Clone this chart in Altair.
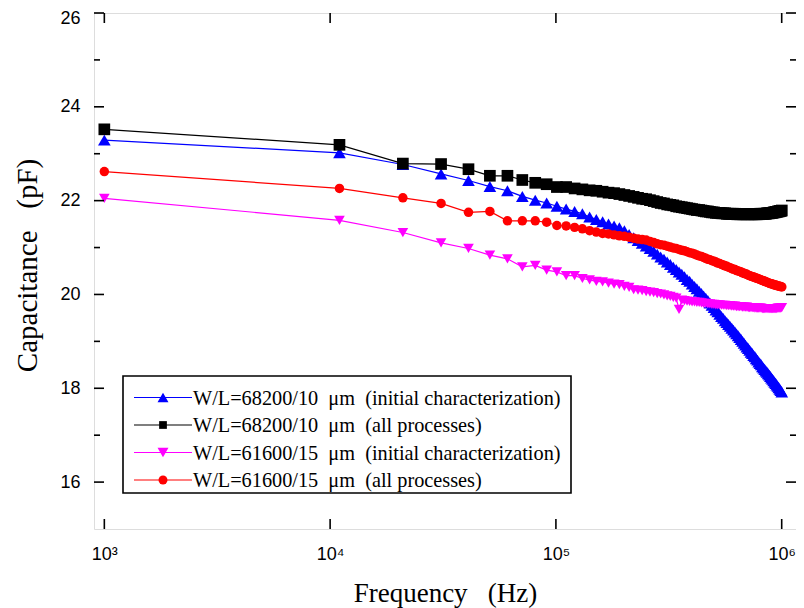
import altair as alt
import pandas as pd

# ---------------- data ----------------
freq = [1000, 11000, 21000, 31000, 41000, 51000, 61000, 71000, 81000, 91000,
        101000, 111000, 121000, 131000, 141000, 151000, 161000, 171000, 181000, 191000,
        201000, 211000, 221000, 231000, 241000, 251000, 261000, 271000, 281000, 291000,
        301000, 311000, 321000, 331000, 341000, 351000, 361000, 371000, 381000, 391000,
        401000, 411000, 421000, 431000, 441000, 451000, 461000, 471000, 481000, 491000,
        501000, 511000, 521000, 531000, 541000, 551000, 561000, 571000, 581000, 591000,
        601000, 611000, 621000, 631000, 641000, 651000, 661000, 671000, 681000, 691000,
        701000, 711000, 721000, 731000, 741000, 751000, 761000, 771000, 781000, 791000,
        801000, 811000, 821000, 831000, 841000, 851000, 861000, 871000, 881000, 891000,
        901000, 911000, 921000, 931000, 941000, 951000, 961000, 971000, 981000, 991000,
        1001000]

cap_68200_initial = [
    23.29, 23.02, 22.77, 22.57, 22.43, 22.30, 22.21, 22.09, 22.01, 21.95,
    21.88, 21.82, 21.77, 21.72, 21.65, 21.60, 21.55, 21.50, 21.46, 21.42,
    21.36, 21.28, 21.21, 21.15, 21.09, 21.03, 20.98, 20.92, 20.86, 20.80,
    20.75, 20.69, 20.64, 20.58, 20.53, 20.48, 20.43, 20.38, 20.32, 20.28,
    20.22, 20.17, 20.12, 20.07, 20.02, 19.97, 19.92, 19.87, 19.82, 19.77,
    19.72, 19.67, 19.63, 19.58, 19.53, 19.49, 19.44, 19.40, 19.36, 19.32,
    19.28, 19.24, 19.20, 19.16, 19.12, 19.08, 19.04, 19.00, 18.96, 18.92,
    18.88, 18.85, 18.81, 18.77, 18.74, 18.70, 18.67, 18.63, 18.60, 18.56,
    18.53, 18.50, 18.46, 18.43, 18.40, 18.37, 18.34, 18.31, 18.28, 18.25,
    18.22, 18.19, 18.16, 18.13, 18.10, 18.07, 18.04, 18.01, 17.98, 17.95,
    17.92]

cap_68200_all = [
    23.52, 23.19, 22.79, 22.78, 22.67, 22.53, 22.53, 22.44, 22.38, 22.35,
    22.29, 22.29, 22.26, 22.24, 22.22, 22.21, 22.19, 22.17, 22.16, 22.14,
    22.12, 22.10, 22.08, 22.06, 22.04, 22.03, 22.01, 21.99, 21.97, 21.95,
    21.94, 21.92, 21.91, 21.90, 21.88, 21.87, 21.86, 21.85, 21.84, 21.83,
    21.82, 21.81, 21.80, 21.80, 21.79, 21.78, 21.77, 21.77, 21.76, 21.75,
    21.75, 21.74, 21.74, 21.74, 21.73, 21.73, 21.73, 21.72, 21.72, 21.72,
    21.72, 21.72, 21.72, 21.71, 21.71, 21.71, 21.71, 21.71, 21.71, 21.71,
    21.71, 21.71, 21.71, 21.71, 21.71, 21.71, 21.71, 21.71, 21.71, 21.71,
    21.72, 21.72, 21.72, 21.72, 21.72, 21.72, 21.73, 21.73, 21.73, 21.74,
    21.74, 21.74, 21.75, 21.75, 21.76, 21.76, 21.77, 21.77, 21.78, 21.78,
    21.79]

cap_61600_initial = [
    22.05, 21.58, 21.32, 21.10, 20.98, 20.84, 20.76, 20.59, 20.62, 20.52,
    20.48, 20.40, 20.40, 20.34, 20.31, 20.28, 20.27, 20.24, 20.22, 20.21,
    20.17, 20.15, 20.10, 20.09, 20.08, 20.06, 20.05, 20.04, 20.02, 20.01,
    19.99, 19.97, 19.96, 19.94, 19.92, 19.68, 19.88, 19.87, 19.86, 19.85,
    19.84, 19.84, 19.83, 19.83, 19.82, 19.81, 19.81, 19.80, 19.80, 19.79,
    19.79, 19.78, 19.78, 19.78, 19.77, 19.77, 19.77, 19.76, 19.76, 19.76,
    19.75, 19.75, 19.75, 19.74, 19.74, 19.74, 19.74, 19.73, 19.73, 19.73,
    19.73, 19.72, 19.72, 19.72, 19.72, 19.72, 19.71, 19.71, 19.71, 19.71,
    19.71, 19.71, 19.70, 19.70, 19.70, 19.70, 19.70, 19.70, 19.70, 19.70,
    19.70, 19.70, 19.70, 19.70, 19.70, 19.70, 19.71, 19.71, 19.71, 19.71,
    19.72]

cap_61600_all = [
    22.62, 22.26, 22.06, 21.94, 21.75, 21.77, 21.57, 21.57, 21.57, 21.54,
    21.47, 21.46, 21.43, 21.40, 21.36, 21.33, 21.30, 21.29, 21.27, 21.25,
    21.24, 21.22, 21.20, 21.18, 21.17, 21.16, 21.13, 21.11, 21.08, 21.06,
    21.05, 21.03, 21.01, 20.99, 20.98, 20.96, 20.94, 20.93, 20.91, 20.89,
    20.88, 20.86, 20.84, 20.82, 20.81, 20.79, 20.77, 20.75, 20.74, 20.72,
    20.71, 20.69, 20.67, 20.66, 20.64, 20.63, 20.61, 20.60, 20.58, 20.57,
    20.55, 20.54, 20.53, 20.51, 20.50, 20.49, 20.48, 20.46, 20.45, 20.44,
    20.43, 20.41, 20.40, 20.39, 20.38, 20.37, 20.36, 20.35, 20.34, 20.33,
    20.32, 20.31, 20.30, 20.29, 20.28, 20.27, 20.26, 20.25, 20.24, 20.23,
    20.23, 20.22, 20.21, 20.20, 20.20, 20.19, 20.18, 20.18, 20.17, 20.17,
    20.16]

NB = "\u00a0"
series_names = [
    f"W/L=68200/10{NB}{NB}\u03bcm{NB}{NB}(initial characterization)",
    f"W/L=68200/10{NB}{NB}\u03bcm{NB}{NB}(all processes)",
    f"W/L=61600/15{NB}{NB}\u03bcm{NB}{NB}(initial characterization)",
    f"W/L=61600/15{NB}{NB}\u03bcm{NB}{NB}(all processes)",
]
series_values = [cap_68200_initial, cap_68200_all, cap_61600_initial, cap_61600_all]

x_major = [1000, 10000, 100000, 1000000]
y_major = [16, 18, 20, 22, 24, 26]
y_minor = [17, 19, 21, 23, 25]

# ---------------- styling ----------------
colors = ["#0000ff", "#000000", "#ff00ff", "#ff0000"]
shapes = ["triangle-up", "square", "triangle-down", "circle"]
sizes = [160, 90, 160, 105]
leg_sizes = [120, 60, 120, 80]

W, H = 702, 516

rows = []
for name, vals in zip(series_names, series_values):
    for i, (f, c) in enumerate(zip(freq, vals)):
        rows.append({"s": name, "f": f, "c": c, "k": i})
df = pd.DataFrame(rows)

xscale = alt.Scale(type="log", domain=[900, 1157000], nice=False)
yscale = alt.Scale(domain=[15, 26], nice=False, zero=False)
cscale = alt.Scale(domain=series_names, range=colors)
shscale = alt.Scale(domain=series_names, range=shapes)
szscale = alt.Scale(domain=series_names, range=sizes)

label_expr = ("datum.value == 1000 ? '10\u00b3' : datum.value == 10000 ? '10\u2074' : "
              "datum.value == 100000 ? '10\u2075' : '10\u2076'")

xaxis = alt.Axis(values=x_major, labelExpr=label_expr, ticks=False, domain=False, grid=False,
                 labelFont="Liberation Sans", labelFontSize=18, labelColor="black",
                 labelPadding=16, labelFlush=False, labelOverlap=False,
                 title=f"Frequency{NB}{NB}{NB}(Hz)", titleFont="Liberation Serif",
                 titleFontSize=27, titleFontWeight="normal", titleColor="black",
                 titleX=W / 2, titleY=72, titleAlign="center", titleBaseline="alphabetic")
yaxis = alt.Axis(values=y_major, ticks=False, domain=False, grid=False,
                 labelFont="Liberation Sans", labelFontSize=18, labelColor="black",
                 labelPadding=14, labelFlush=False, labelOverlap=False,
                 labelOffset={"condition": {"test": "datum.value == 26", "value": 5}, "value": 0},
                 title=f"Capacitance{NB}{NB}{NB}(pF)", titleFont="Liberation Serif",
                 titleFontSize=29, titleFontWeight="normal", titleColor="black",
                 titleAngle=270, titleX=-67, titleY=H / 2 - 6, titleAlign="center",
                 titleBaseline="middle")

lines = alt.Chart(df).mark_line(strokeWidth=1.2, clip=True).encode(
    x=alt.X("f:Q", scale=xscale, axis=xaxis),
    y=alt.Y("c:Q", scale=yscale, axis=yaxis),
    color=alt.Color("s:N", scale=cscale, legend=None),
    order=alt.Order("k:Q"),
)

points = alt.Chart(df).mark_point(filled=True, opacity=1, strokeWidth=0, clip=True).encode(
    x=alt.X("f:Q", scale=xscale),
    y=alt.Y("c:Q", scale=yscale),
    color=alt.Color("s:N", scale=cscale, legend=None),
    shape=alt.Shape("s:N", scale=shscale, legend=None),
    size=alt.Size("s:N", scale=szscale, legend=None),
)

# inward ticks on all four sides
ymaj = pd.DataFrame({"c": y_major})
ymin = pd.DataFrame({"c": y_minor})
xmaj = pd.DataFrame({"f": x_major})
tick_layers = []
for d, ln in [(ymaj, 10), (ymin, 6)]:
    tick_layers.append(alt.Chart(d).mark_rule(color="black", strokeWidth=1.6).encode(
        y=alt.Y("c:Q", scale=yscale), x=alt.value(0), x2=alt.value(ln)))
    tick_layers.append(alt.Chart(d).mark_rule(color="black", strokeWidth=1.6).encode(
        y=alt.Y("c:Q", scale=yscale), x=alt.value(W), x2=alt.value(W - ln)))
tick_layers.append(alt.Chart(xmaj).mark_rule(color="black", strokeWidth=1.6).encode(
    x=alt.X("f:Q", scale=xscale), y=alt.value(H), y2=alt.value(H - 10)))
tick_layers.append(alt.Chart(xmaj).mark_rule(color="black", strokeWidth=1.6).encode(
    x=alt.X("f:Q", scale=xscale), y=alt.value(0), y2=alt.value(10)))

# legend box
one = pd.DataFrame({"a": [0]})
box = alt.Chart(one).mark_rect(fill="white", stroke="black", strokeWidth=1.6).encode(
    x=alt.value(29), x2=alt.value(477), y=alt.value(363), y2=alt.value(480))
legend_layers = [box]
for i, name in enumerate(series_names):
    yy = 384.5 + 27.5 * i
    ld = pd.DataFrame({"s": [name]})
    legend_layers.append(alt.Chart(ld).mark_rule(color=colors[i], strokeWidth=1.2).encode(
        x=alt.value(40), x2=alt.value(98), y=alt.value(yy)))
    legend_layers.append(alt.Chart(ld).mark_point(filled=True, opacity=1, strokeWidth=0,
                                                  shape=shapes[i], color=colors[i],
                                                  size=leg_sizes[i]).encode(
        x=alt.value(69), y=alt.value(yy)))
    legend_layers.append(alt.Chart(ld).mark_text(align="left", baseline="middle",
                                                 font="Liberation Serif", fontSize=20.3,
                                                 color="black").encode(
        x=alt.value(99), y=alt.value(yy + 1), text="s:N"))

chart = alt.layer(lines, points, *tick_layers, *legend_layers).properties(
    width=W, height=H,
    autosize=alt.AutoSizeParams(type="none"),
    padding={"left": 86, "top": 5, "right": 0, "bottom": 79},
).configure_view(stroke="black", strokeWidth=2).configure(background="white")

chart.save("out.html", embed_options={"renderer": "svg", "actions": False})
